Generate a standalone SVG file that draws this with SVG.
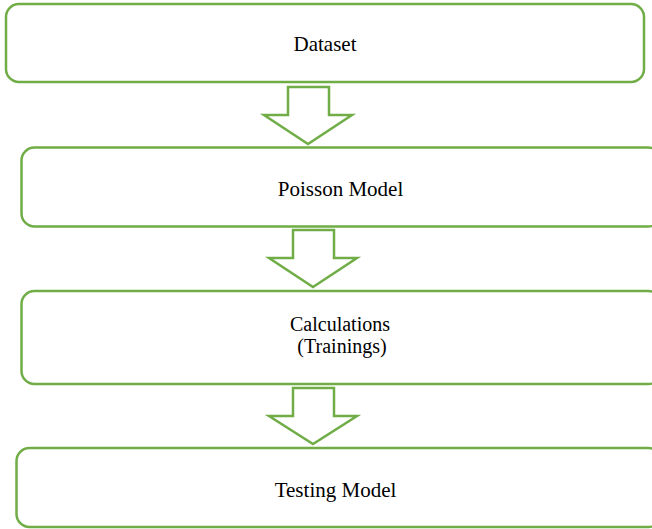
<svg xmlns="http://www.w3.org/2000/svg" width="652" height="529" viewBox="0 0 652 529">
<style>
.box{fill:#fff;stroke:#70AD47;stroke-width:2.5}
.arr{fill:#fff;stroke:#70AD47;stroke-width:2.5;stroke-linejoin:miter}
.t{font-family:"Liberation Serif","Times New Roman",serif;font-size:21px;fill:#000;text-anchor:middle}
.t2{font-size:20px}
</style>
<rect width="652" height="529" fill="#fff"/>
<g id="connectors">
<polygon class="arr" points="288,87 329,87 329,115 352,115 308,144 264,115 288,115"/>
<polygon class="arr" points="293,230 334,230 334,258 357,258 313,287 269,258 293,258"/>
<polygon class="arr" points="293,388 334,388 334,416 357,416 313,444 269,416 293,416"/>
</g>
<g id="dataset">
<rect class="box" x="6" y="4" width="638" height="78" rx="13"/>
<text class="t" x="325" y="51">Dataset</text>
</g>
<g id="poisson">
<rect class="box" x="21.5" y="147.5" width="640" height="79" rx="13"/>
<text class="t" x="340.5" y="196">Poisson Model</text>
</g>
<g id="calculations">
<rect class="box" x="21.5" y="291" width="640" height="93" rx="13"/>
<text class="t t2" x="340" y="331">Calculations</text>
<text class="t t2" x="342" y="353">(Trainings)</text>
</g>
<g id="testing">
<rect class="box" x="16.5" y="448" width="645" height="79" rx="13"/>
<text class="t" x="335.5" y="497">Testing Model</text>
</g>
</svg>
